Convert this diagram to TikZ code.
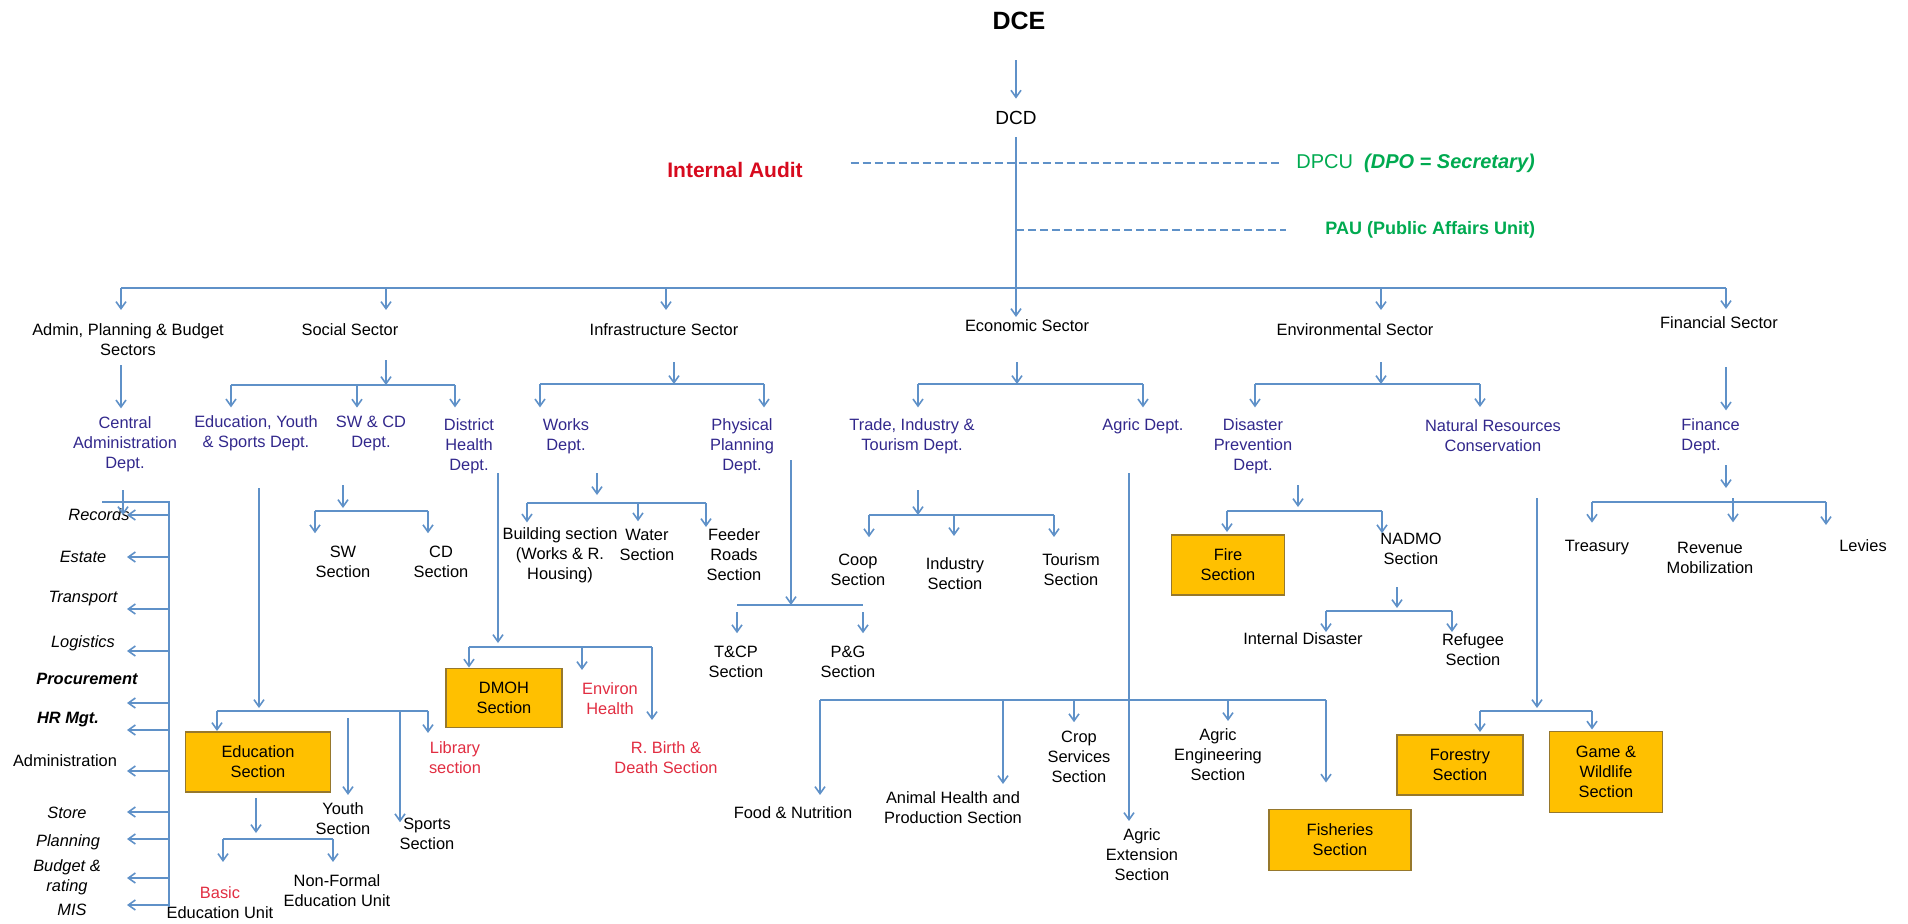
\documentclass[tikz,border=0pt]{standalone}
\usepackage{fontspec}
\setmainfont{Liberation Sans}
\usetikzlibrary{arrows.meta}
\definecolor{linec}{RGB}{95,145,200}
\definecolor{navy}{RGB}{50,40,140}
\definecolor{redtxt}{RGB}{225,45,65}
\definecolor{auditred}{RGB}{215,10,30}
\definecolor{greentxt}{RGB}{0,170,80}
\definecolor{gold}{RGB}{255,192,0}
\definecolor{boxline}{RGB}{150,120,45}
\newcommand{\chartfont}{\fontsize{8.2}{10}\selectfont}

\begin{document}
\begin{tikzpicture}[x=0.5pt,y=-0.5pt,
lbl/.style={font=\chartfont, align=center, inner sep=1pt, outer ysep=3pt},
dept/.style={lbl, text=navy},
hot/.style={lbl, text=redtxt},
unit/.style={lbl, draw=boxline, fill=gold, line width=0.6pt, outer sep=0pt},
arr/.style={draw=linec, line width=0.8pt, -{Straight Barb[length=3.5pt,width=5pt]}},
link/.style={draw=linec, line width=0.8pt},
dashlink/.style={draw=linec, line width=1pt, dash pattern=on 4pt off 2pt}]
\useasboundingbox (0,0) rectangle (1908,923);

%top of the chart
\node[font=\bfseries\fontsize{12.5}{15}\selectfont] (dce) at (1019,21) {DCE};
\node[font=\fontsize{9.5}{11}\selectfont, outer ysep=3pt] (dcd) at (1016,118) {DCD};
\coordinate (dceout) at (1016,60);
\draw[arr] (dceout) -- (dceout |- dcd.north);
\node[font=\bfseries\fontsize{10.5}{12}\selectfont, text=auditred] (audit) at (735,170) {Internal Audit};
\node[anchor=west, font=\fontsize{10}{12}\selectfont, text=greentxt, inner sep=1pt] (dpcu) at (1294,163) {DPCU\ \ \textbf{\textit{(DPO = Secretary)}}};
\node[anchor=west, font=\bfseries\fontsize{9}{11}\selectfont, text=greentxt, inner sep=1pt] (pau) at (1323,230) {PAU (Public Affairs Unit)};
\draw[dashlink, shorten <=20.5pt, shorten >=6.5pt] (dpcu.west -| audit.east) -- (dpcu.west);
\draw[dashlink, shorten >=18.5pt] (pau.west -| dcd.south) -- (pau.west);

%sectors
\node[lbl] (admin) at (128,340) {Admin, Planning \& Budget\\Sectors};
\node[lbl] (social) at (350,330) {Social Sector};
\node[lbl] (infra) at (664,330) {Infrastructure Sector};
\node[lbl] (econ) at (1027,326) {Economic Sector};
\node[lbl] (env) at (1355,330) {Environmental Sector};
\node[lbl] (fin) at (1719,323) {Financial Sector};
\draw[arr, shorten >=-2.5pt] (dcd.south) -- (dcd.south |- econ.north);

%departments
\node[dept] (central) at (125,444) {Central\\Administration\\Dept.};
\node[dept] (edudept) at (256,433) {Education, Youth\\\& Sports Dept.};
\node[dept] (swcd) at (371,433) {SW \& CD\\Dept.};
\node[dept] (health) at (469,446) {District\\Health\\Dept.};
\node[dept] (works) at (566,436) {Works\\Dept.};
\node[dept] (physical) at (742,446) {Physical\\Planning\\Dept.};
\node[dept] (trade) at (912,436) {Trade, Industry \&\\Tourism Dept.};
\node[dept] (agric) at (1143,426) {Agric Dept.};
\node[dept] (disaster) at (1253,446) {Disaster\\Prevention\\Dept.};
\node[dept] (natres) at (1493,436) {Natural Resources\\Conservation};
\node[dept, align=left, anchor=west] (finance) at (1679,436) {Finance\\Dept.};

%sections and units
\node[lbl] (sw) at (343,562) {SW\\Section};
\node[lbl] (cd) at (441,562) {CD\\Section};
\node[unit, minimum width=72.5pt, minimum height=30pt] (edusec) at (258,762) {Education\\Section};
\node[lbl] (youth) at (343,819) {Youth\\Section};
\node[lbl] (sports) at (427,834) {Sports\\Section};
\node[hot] (library) at (455,758) {Library\\section};
\node[lbl] (basic) at (220,903) {\textcolor{redtxt}{Basic}\\Education Unit};
\node[lbl] (nonformal) at (337,891) {Non-Formal\\Education Unit};
\node[unit, minimum width=58pt, minimum height=29.5pt] (dmoh) at (504,698) {DMOH\\Section};
\node[hot] (environ) at (610,699) {Environ\\Health};
\node[hot] (rbirth) at (666,758) {R. Birth \&\\Death Section};
\node[lbl] (building) at (560,555) {Building section\\(Works \& R.\\Housing)};
\node[lbl] (water) at (647,545) {Water\\Section};
\node[lbl] (feeder) at (734,555) {Feeder\\Roads\\Section};
\node[lbl] (tcp) at (736,662) {T\&CP\\Section};
\node[lbl] (pg) at (848,662) {P\&G\\Section};
\node[lbl] (coop) at (858,570) {Coop\\Section};
\node[lbl] (industry) at (955,574) {Industry\\Section};
\node[lbl] (tourism) at (1071,570) {Tourism\\Section};
\node[lbl] (food) at (793,813) {Food \& Nutrition};
\node[lbl] (animal) at (953,808) {Animal Health and\\Production Section};
\node[lbl] (crop) at (1079,757) {Crop\\Services\\Section};
\node[lbl] (agreng) at (1218,755) {Agric\\Engineering\\Section};
\node[lbl] (agrext) at (1142,855) {Agric\\Extension\\Section};
\node[unit, minimum width=71pt, minimum height=30.5pt] (fisheries) at (1340,840) {Fisheries\\Section};
\node[unit, minimum width=56.5pt, minimum height=30pt] (fire) at (1228,565) {Fire\\Section};
\node[lbl] (nadmo) at (1411,549) {NADMO\\Section};
\node[lbl] (internal) at (1303,639) {Internal Disaster};
\node[lbl] (refugee) at (1473,650) {Refugee\\Section};
\node[unit, minimum width=63pt, minimum height=30pt] (forestry) at (1460,765) {Forestry\\Section};
\node[unit, minimum width=56.5pt, minimum height=40.5pt] (game) at (1606,772) {Game \&\\Wildlife\\Section};
\node[lbl] (treasury) at (1597,548) {Treasury};
\node[lbl] (revenue) at (1710,558) {Revenue\\Mobilization};
\node[lbl] (levies) at (1863,546) {Levies};

%drops from each bar: x/bar y/target/shorten end/shorten start
\foreach \x/\y/\t/\s/\b in {121/288/admin/3/0, 386/288/social/3/0, 666/288/infra/3/0, 1381/288/env/3/0, 1726/288/fin/0/0,
  231/385/edudept/0/0, 357/385/swcd/0/0, 455/385/health/1.5/0,
  540/384/works/1.5/0, 764/384/physical/1.5/0,
  918/384/trade/1.5/0, 1143/384/agric/1.5/0,
  1255/384/disaster/1.5/0, 1480/384/natres/2.5/0,
  315/511/sw/2.5/0, 428/511/cd/2.5/0,
  217/711/edusec/0.5/0, 348/711/youth/0/3.5, 400/711/sports/-6/0, 428/711/library/0.5/0,
  223/839/basic/8.5/0, 333/839/nonformal/2.5/0,
  469/647/dmoh/0.5/0, 582/647/environ/2.5/0, 652/647/rbirth/7/0,
  527/503/building/-1.5/0, 638/503/water/0/0, 706/503/feeder/-3/0,
  737/605/tcp/2.5/3.5, 863/605/pg/2.5/3.5,
  869/515/coop/4.5/0, 954/515/industry/7/0, 1054/515/tourism/4.5/0,
  820/700/food/2/0, 1003/700/animal/0/0, 1074/700/crop/0.5/0, 1228/700/agreng/0/0, 1326/700/fisheries/13.5/0,
  1227/511/fire/1.5/0, 1382/511/nadmo/-4/0,
  1326/611/internal/-3.5/0, 1452/611/refugee/-3/0,
  1480/711/forestry/1.5/0, 1592/711/game/1/0,
  1592/502/treasury/5/0, 1733/502/revenue/6/-2, 1826/502/levies/3.5/0}{
  \coordinate (d\t) at (\x,\y);
  \draw[arr, shorten >=\s pt, shorten <=\b pt] (d\t) -- (d\t |- \t.north);
}

%bars joining the drops
\draw[link] (dadmin) -- (dfin);
\draw[link] (dedudept) -- (dhealth);
\draw[link] (dworks) -- (dphysical);
\draw[link] (dtrade) -- (dagric);
\draw[link] (ddisaster) -- (dnatres);
\draw[link] (dsw) -- (dcd);
\draw[link] (dedusec) -- (dlibrary);
\draw[link] (dbasic) -- (dnonformal);
\draw[link] (ddmoh) -- (drbirth);
\draw[link] (dbuilding) -- (dfeeder);
\draw[link] (dtcp) -- (dpg);
\draw[link] (dcoop) -- (dtourism);
\draw[link] (dfood) -- (dfisheries);
\draw[link] (dfire) -- (dnadmo);
\draw[link] (dinternal) -- (drefugee);
\draw[link] (dforestry) -- (dgame);
\draw[link] (dtreasury) -- (dlevies);

%arrows feeding each bar: name/x/y/target/shorten
\foreach \n/\x/\y/\t/\s in {social/386/360/dedudept/0, infra/674/362/dworks/0, econ/1017/362/dtrade/0, env/1381/362/ddisaster/0,
  swcd/343/485/dsw/1.5, edu/259/488/dedusec/1.5, edusec/256/798/dbasic/3,
  health/498/473/ddmoh/2, works/597/473/dbuilding/4, physical/791/460/dtcp/0,
  trade/918/490/dcoop/0, disaster/1298/485/dfire/2, nadmo/1397/587/dinternal/1.5,
  natres/1537/498/dforestry/1.5, finance/1726/465/dtreasury/7,
  central/121/365/central.north/0, finsec/1726/367/finance.north/0, agrext/1129/473/agrext.north/0}{
  \coordinate (in\n) at (\x,\y);
  \draw[arr, shorten >=\s pt] (in\n) -- (in\n |- \t);
}

%central administration units
\coordinate (tipcol) at (127,0);
\coordinate (spinel) at (102,502);
\coordinate (spinetop) at (169,502);
\coordinate (spinebot) at (169,907);
\draw[link] (spinel) -- (spinetop) -- (spinebot);
\foreach \n/\t/\tx/\ty/\ay/\f in {1/Records/99/515/515/\itshape, 2/Estate/83/557/557/\itshape,
  3/Transport/83/599/609/\itshape, 4/Logistics/83/643/651/\itshape,
  5/Procurement/87/679/703/{\bfseries\itshape}, 6/HR Mgt./68/720/730/{\bfseries\itshape},
  7/Administration/65/761/771/\upshape, 8/Store/67/813/812/\itshape,
  9/Planning/68/842/839/\itshape, 10/{Budget \&\\rating}/67/877/878/\itshape,
  11/MIS/72/910/905/\itshape}{
  \node[lbl, font=\chartfont\f] (adm\n) at (\tx,\ty) {\t};
  \coordinate (spine\n) at (169,\ay);
  \draw[arr] (spine\n) -- (spine\n -| tipcol);
}
\coordinate (incadm) at (123,490);
\draw[arr] (incadm) -- (incadm |- adm1);
\end{tikzpicture}
\end{document}
